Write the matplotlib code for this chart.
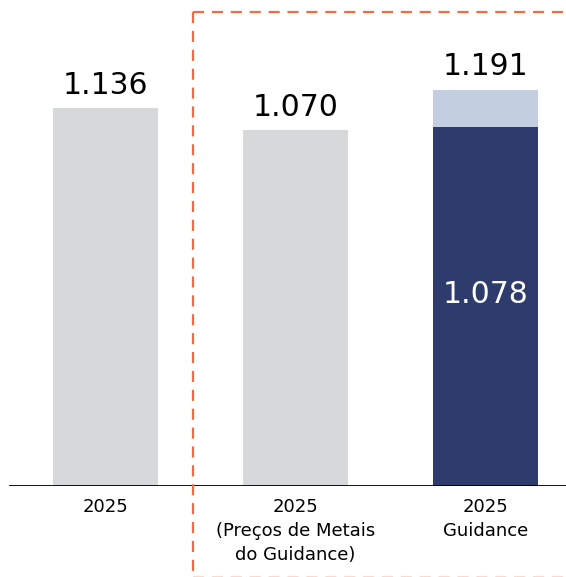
import matplotlib.pyplot as plt
from matplotlib.lines import Line2D

categories = ['2025', '2025\n(Preços de Metais\ndo Guidance)', '2025\nGuidance']
base_vals = [1.136, 1.070, 1.078]
extra_vals = [0, 0, 1.191 - 1.078]
totals = [1.136, 1.070, 1.191]
inner_label = '1.078'

W, H = 566, 577
fig = plt.figure(figsize=(W / 100, H / 100), dpi=100)
base_px = 486
ax = fig.add_axes([0, (H - base_px) / H, 1, base_px / H])

gray = '#D7D8DA'
navy = '#2E3B6D'
light = '#C4CEE1'
cols = [gray, gray, navy]
x = [0, 1, 2]
wd = 105 / 190

ax.bar(x, base_vals, width=wd, color=cols, zorder=2)
ax.bar(x, extra_vals, bottom=base_vals, width=wd, color=light, zorder=2)

for xi, t in zip(x, totals):
	ax.annotate(f'{t:.3f}', (xi, t), xytext=(0, 6), textcoords='offset points',
		ha='center', va='bottom', fontsize=21.5, color='black')
ax.text(2, base_vals[2] * 0.535, inner_label, ha='center', va='center', fontsize=21.5, color='white')

ax.set_xlim(-105.5 / 190, 2 + 80.5 / 190)
ax.set_ylim(0, 1.136 * base_px / (base_px - 108))
ax.axis('off')
ax.axhline(0, xmin=10 / W, xmax=1, color='black', lw=1.3, zorder=3)

for xi, lab in zip(x, categories):
	ax.text(xi, -0.036, lab, ha='center', va='top', fontsize=13, linespacing=1.42)

# caixa tracejada
orange = '#F26B43'
dash = (0, (5, 3.5))
x0, y0, y1 = 193 / W, 1 - 12 / H, 0.4 / H
fig.add_artist(Line2D([x0, 1.01], [y0, y0], transform=fig.transFigure, color=orange, lw=1.6, ls=dash))
fig.add_artist(Line2D([x0, x0], [y0, y1], transform=fig.transFigure, color=orange, lw=1.6, ls=dash))
fig.add_artist(Line2D([x0, 1.01], [y1, y1], transform=fig.transFigure, color=orange, lw=1.6, ls=dash, alpha=0.25))

plt.savefig('out.png', dpi=100)
